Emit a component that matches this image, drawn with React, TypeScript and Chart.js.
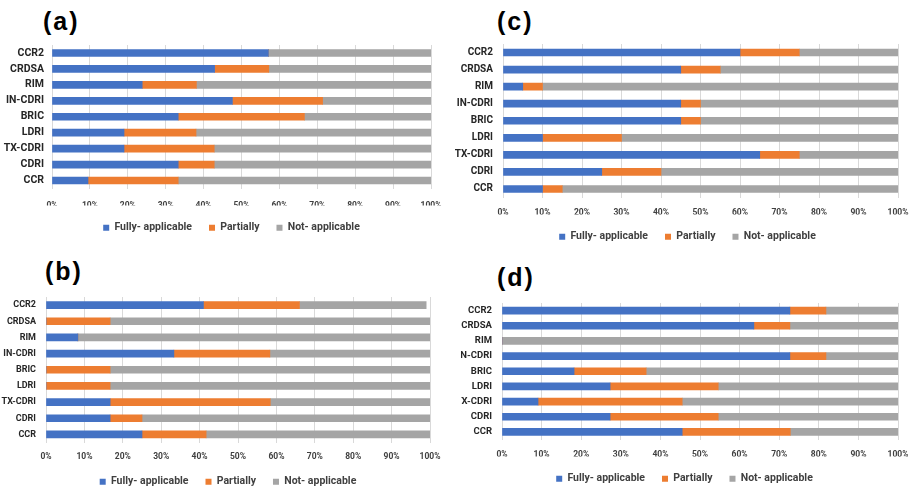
import React, { useEffect, useRef } from 'react';
import { Chart, registerables } from 'chart.js';

Chart.register(...registerables);

const categories = ['CCR2', 'CRDSA', 'RIM', 'IN-CDRI', 'BRIC', 'LDRI', 'TX-CDRI', 'CDRI', 'CCR'];
const seriesNames = ['Fully- applicable', 'Partially', 'Not- applicable'];
const xTickLabels = ['0%', '10%', '20%', '30%', '40%', '50%', '60%', '70%', '80%', '90%', '100%'];

// Panel (a)
const aFully = [57.1, 42.9, 23.8, 47.6, 33.3, 19.0, 19.0, 33.3, 9.5];
const aPartial = [0, 14.3, 14.3, 23.8, 33.3, 19.0, 23.8, 9.5, 23.8];
const aNot = [42.9, 42.8, 61.9, 28.6, 33.4, 62.0, 57.2, 57.2, 66.7];

// Panel (b)
const bFully = [41.0, 0, 8.3, 33.3, 0, 0, 16.7, 16.7, 25.0];
const bPartial = [25.0, 16.7, 0, 25.0, 16.7, 16.7, 41.7, 8.3, 16.7];
const bNot = [33.0, 83.3, 91.7, 41.7, 83.3, 83.3, 41.6, 75.0, 58.3];

// Panel (c)
const cFully = [60, 45, 5, 45, 45, 10, 65, 25, 10];
const cPartial = [15, 10, 5, 5, 5, 20, 10, 15, 5];
const cNot = [25, 45, 90, 50, 50, 70, 25, 60, 85];

// Panel (d)
const dFully = [72.7, 63.6, 0, 72.7, 18.2, 27.3, 9.1, 27.3, 45.5];
const dPartial = [9.1, 9.1, 0, 9.1, 18.2, 27.3, 36.4, 27.3, 27.3];
const dNot = [18.2, 27.3, 100, 18.2, 63.6, 45.4, 54.5, 45.4, 27.2];

const COLORS = ['#4472C4', '#ED7D31', '#A5A5A5'];
const FONT = "Roboto, Lato, sans-serif";
const LABEL_FONT = "'Liberation Sans', Arial, sans-serif";

type PanelProps = {
  title: string;
  fully: number[];
  partial: number[];
  notApp: number[];
  left: number;
  top: number;
  width: number;
  height: number;
  yWidth: number;
  rightPad: number;
  catSize: number;
  catPad: number;
  tickPad: number;
  titleLeft: number;
  titleTop: number;
};

function Panel(p: PanelProps) {
  const ref = useRef<HTMLCanvasElement | null>(null);
  useEffect(() => {
    if (!ref.current) return;
    const values = [p.fully, p.partial, p.notApp];
    const chart = new Chart(ref.current, {
      type: 'bar',
      data: {
        labels: categories,
        datasets: seriesNames.map((name, i) => ({
          label: name,
          data: values[i],
          backgroundColor: COLORS[i],
          borderWidth: 0,
          barThickness: 7,
        })),
      },
      options: {
        indexAxis: 'y',
        animation: false,
        responsive: false,
        maintainAspectRatio: false,
        layout: { padding: { top: 0, right: 0, bottom: 0, left: 0 } },
        plugins: {
          legend: {
            position: 'bottom',
            labels: {
              boxWidth: 6,
              boxHeight: 6,
              padding: 17,
              color: '#404040',
              font: { family: FONT, size: 10.5, weight: 'bold' },
            },
          },
          tooltip: { enabled: false },
          title: { display: false },
        },
        scales: {
          x: {
            stacked: true,
            min: 0,
            max: 100,
            afterFit: (s: any) => {
              s.height = 17;
              s.paddingRight = p.rightPad;
            },
            ticks: {
              stepSize: 10,
              padding: p.tickPad,
              maxRotation: 0,
              color: '#404040',
              font: { family: FONT, size: 8.5, weight: 'bold' },
              callback: (v: any) => xTickLabels[Math.round(Number(v) / 10)],
            },
            grid: { color: '#d9d9d9', lineWidth: 1, drawTicks: false },
            border: { display: false },
          },
          y: {
            stacked: true,
            afterFit: (s: any) => {
              s.width = p.yWidth;
              s.paddingTop = 0;
              s.paddingBottom = 0;
            },
            ticks: {
              autoSkip: false,
              padding: p.catPad,
              color: '#262626',
              font: { family: FONT, size: p.catSize, weight: 'bold' },
            },
            grid: { display: false, drawTicks: false },
            border: { display: false },
          },
        },
      },
    });
    return () => chart.destroy();
  }, []);
  return (
    <>
      <div
        style={{
          position: 'absolute',
          left: p.titleLeft,
          top: p.titleTop,
          fontFamily: LABEL_FONT,
          fontWeight: 'bold',
          fontSize: 25,
          letterSpacing: 2,
          lineHeight: '25px',
          color: '#000',
        }}
      >
        {p.title}
      </div>
      <canvas
        ref={ref}
        width={p.width}
        height={p.height}
        style={{ position: 'absolute', left: p.left, top: p.top, width: p.width, height: p.height }}
      />
    </>
  );
}

export default function App() {
  return (
    <div style={{ position: 'fixed', left: 0, top: 0, width: 914, height: 493, background: '#fff', overflow: 'hidden' }}>
      <Panel title="(a)" fully={aFully} partial={aPartial} notApp={aNot}
        left={0} top={44.6} width={463} height={198} yWidth={52} rightPad={32} catSize={10.5} catPad={8} tickPad={12}
        titleLeft={43} titleTop={9} />
      <Panel title="(b)" fully={bFully} partial={bPartial} notApp={bNot}
        left={0} top={297} width={456} height={200} yWidth={46} rightPad={26} catSize={9} catPad={10} tickPad={9}
        titleLeft={45} titleTop={259} />
      <Panel title="(c)" fully={cFully} partial={cPartial} notApp={cNot}
        left={455} top={44} width={465} height={208} yWidth={48} rightPad={22} catSize={10} catPad={10} tickPad={10}
        titleLeft={497} titleTop={9} />
      <Panel title="(d)" fully={dFully} partial={dPartial} notApp={dNot}
        left={461} top={303.4} width={447} height={191} yWidth={41} rightPad={10} catSize={9.5} catPad={10} tickPad={10}
        titleLeft={497} titleTop={265} />
    </div>
  );
}
